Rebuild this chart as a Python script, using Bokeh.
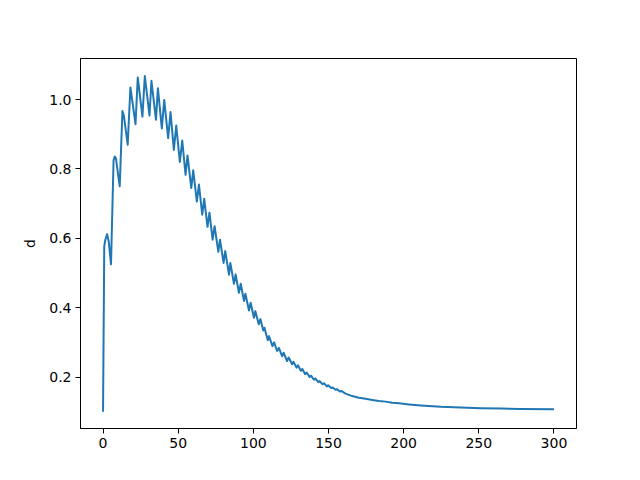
from bokeh.plotting import figure
from bokeh.models import Range1d, FixedTicker, PrintfTickFormatter
from bokeh.embed import file_html
from bokeh.resources import INLINE

x_vals = [0, 0.8, 1.5, 2.7, 3.8, 5.3, 7.0, 7.8, 8.6, 11.1, 12.9, 13.8, 16.4, 18.2,
          21.6, 23.1, 26.2, 27.8, 30.9, 32.2, 35.2, 36.5, 39.1, 40.7, 43.3, 44.9,
          47.1, 48.7, 51.1, 52.7, 54.9, 56.2, 58.7, 60.0, 62.4, 63.8, 66.0, 67.3,
          69.5, 70.8, 72.9, 74.2, 76.7, 77.8, 80.2, 81.3, 83.8, 84.7, 87.1, 88.2,
          90.4, 91.6, 93.8, 94.7, 97.1, 98.2, 100.4, 101.3, 103.6, 104.7, 106.6,
          107.4, 109.6, 110.4, 112.7, 113.8, 115.8, 117.0, 119.1, 120.2, 122.4,
          123.5, 125.8, 126.7, 128.7, 129.7, 131.6, 132.6, 134.5, 135.5, 137.4,
          138.4, 140.3, 141.2, 143.2, 144.1, 146.0, 147.0, 148.9, 149.8, 151.8,
          152.7, 154.7, 155.6, 157.6, 158.5, 161.3, 165.8, 170.2, 174.7, 179.1,
          183.6, 188.0, 192.4, 196.9, 203.6, 211.3, 224.7, 238.0, 251.3, 264.7,
          278.0, 300.0]
d_vals = [0.100, 0.577, 0.595, 0.612, 0.590, 0.525, 0.825, 0.836, 0.830, 0.750,
          0.967, 0.955, 0.870, 1.035, 0.929, 1.064, 0.951, 1.068, 0.954, 1.054,
          0.942, 1.033, 0.917, 0.999, 0.889, 0.964, 0.855, 0.925, 0.820, 0.882,
          0.783, 0.839, 0.745, 0.796, 0.706, 0.755, 0.668, 0.714, 0.633, 0.674,
          0.596, 0.635, 0.561, 0.596, 0.529, 0.563, 0.495, 0.529, 0.469, 0.496,
          0.443, 0.469, 0.419, 0.440, 0.392, 0.414, 0.371, 0.390, 0.352, 0.367,
          0.334, 0.342, 0.306, 0.318, 0.289, 0.300, 0.275, 0.284, 0.260, 0.270,
          0.246, 0.256, 0.237, 0.244, 0.227, 0.234, 0.218, 0.223, 0.208, 0.213,
          0.200, 0.204, 0.192, 0.196, 0.185, 0.188, 0.179, 0.182, 0.173, 0.176,
          0.168, 0.170, 0.163, 0.165, 0.158, 0.160, 0.152, 0.145, 0.140, 0.137,
          0.134, 0.131, 0.129, 0.126, 0.124, 0.121, 0.118, 0.114, 0.112, 0.110,
          0.109, 0.108, 0.107]

x_ticks = [0, 50, 100, 150, 200, 250, 300]
y_ticks = [0.2, 0.4, 0.6, 0.8, 1.0]

p = figure(width=624, height=464, output_backend="svg", toolbar_location=None,
           x_range=Range1d(-15, 315), y_range=Range1d(0.0515, 1.1185))
p.min_border_left = 80
p.min_border_right = 48
p.min_border_top = 58
p.min_border_bottom = 36

p.line(x_vals, d_vals, line_color="#1f77b4", line_width=2, line_join="round")

p.grid.visible = False
p.outline_line_color = "black"
p.outline_line_width = 1
p.outline_line_alpha = 1

for ax in (p.xaxis[0], p.yaxis[0]):
    ax.major_tick_in = 0
    ax.major_tick_out = 5
    ax.minor_tick_line_color = None
    ax.axis_line_color = "black"
    ax.major_tick_line_color = "black"
    ax.major_label_text_font = "DejaVu Sans"
    ax.major_label_text_font_size = "14px"
    ax.major_label_text_color = "black"
    ax.major_label_standoff = 4

p.xaxis.ticker = FixedTicker(ticks=x_ticks)
p.yaxis.ticker = FixedTicker(ticks=y_ticks)
p.yaxis.formatter = PrintfTickFormatter(format="%.1f")

p.yaxis.axis_label = "d"
p.yaxis.axis_label_text_font = "DejaVu Sans"
p.yaxis.axis_label_text_font_size = "14px"
p.yaxis.axis_label_text_font_style = "normal"
p.yaxis.axis_label_text_color = "black"
p.yaxis.axis_label_standoff = 8

open("out.html", "w").write(file_html(p, INLINE))
